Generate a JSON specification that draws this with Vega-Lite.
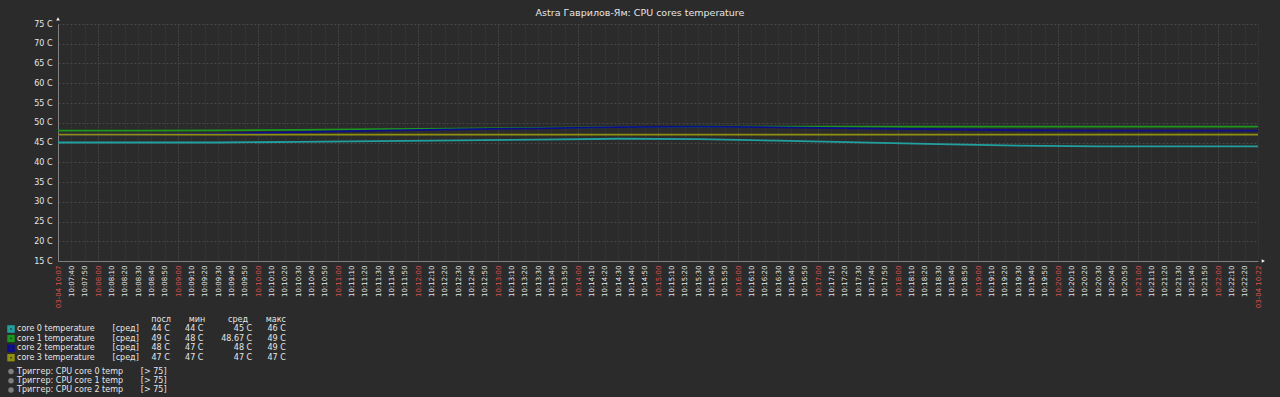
{
  "$schema": "https://vega.github.io/schema/vega-lite/v6.json",
  "width": 1200,
  "height": 237,
  "autosize": {"type": "none"},
  "padding": {"left": 58, "top": 24, "right": 22, "bottom": 136},
  "background": "#2b2b2b",
  "config": {"view": {"stroke": null}, "font": "DejaVu Sans"},
  "title": {"text": "Astra Гаврилов-Ям: CPU cores temperature", "fontSize": 9.5, "fontWeight": "normal", "color": "#e6e6e6", "font": "DejaVu Sans", "offset": 0, "dx": -18},
  "datasets": {
    "series": [
      {"t": "2024-03-04T10:07:30Z", "s": "core 0", "v": 45},
      {"t": "2024-03-04T10:08:30Z", "s": "core 0", "v": 45},
      {"t": "2024-03-04T10:09:30Z", "s": "core 0", "v": 45},
      {"t": "2024-03-04T10:10:30Z", "s": "core 0", "v": 45.15},
      {"t": "2024-03-04T10:11:30Z", "s": "core 0", "v": 45.35},
      {"t": "2024-03-04T10:12:30Z", "s": "core 0", "v": 45.55},
      {"t": "2024-03-04T10:13:30Z", "s": "core 0", "v": 45.75},
      {"t": "2024-03-04T10:14:30Z", "s": "core 0", "v": 45.95},
      {"t": "2024-03-04T10:15:30Z", "s": "core 0", "v": 45.85},
      {"t": "2024-03-04T10:16:30Z", "s": "core 0", "v": 45.45},
      {"t": "2024-03-04T10:17:30Z", "s": "core 0", "v": 45.05},
      {"t": "2024-03-04T10:18:30Z", "s": "core 0", "v": 44.6},
      {"t": "2024-03-04T10:19:30Z", "s": "core 0", "v": 44.2},
      {"t": "2024-03-04T10:20:30Z", "s": "core 0", "v": 44},
      {"t": "2024-03-04T10:21:30Z", "s": "core 0", "v": 44},
      {"t": "2024-03-04T10:22:30Z", "s": "core 0", "v": 44},
      {"t": "2024-03-04T10:07:30Z", "s": "core 1", "v": 48},
      {"t": "2024-03-04T10:08:30Z", "s": "core 1", "v": 48},
      {"t": "2024-03-04T10:09:30Z", "s": "core 1", "v": 48.05},
      {"t": "2024-03-04T10:10:30Z", "s": "core 1", "v": 48.2},
      {"t": "2024-03-04T10:11:30Z", "s": "core 1", "v": 48.35},
      {"t": "2024-03-04T10:12:30Z", "s": "core 1", "v": 48.5},
      {"t": "2024-03-04T10:13:30Z", "s": "core 1", "v": 48.7},
      {"t": "2024-03-04T10:14:30Z", "s": "core 1", "v": 48.9},
      {"t": "2024-03-04T10:15:30Z", "s": "core 1", "v": 49},
      {"t": "2024-03-04T10:16:30Z", "s": "core 1", "v": 49},
      {"t": "2024-03-04T10:17:30Z", "s": "core 1", "v": 49},
      {"t": "2024-03-04T10:18:30Z", "s": "core 1", "v": 49},
      {"t": "2024-03-04T10:19:30Z", "s": "core 1", "v": 49},
      {"t": "2024-03-04T10:20:30Z", "s": "core 1", "v": 49},
      {"t": "2024-03-04T10:21:30Z", "s": "core 1", "v": 49},
      {"t": "2024-03-04T10:22:30Z", "s": "core 1", "v": 49},
      {"t": "2024-03-04T10:07:30Z", "s": "core 2", "v": 47},
      {"t": "2024-03-04T10:08:30Z", "s": "core 2", "v": 47},
      {"t": "2024-03-04T10:09:30Z", "s": "core 2", "v": 47.2},
      {"t": "2024-03-04T10:10:30Z", "s": "core 2", "v": 47.65},
      {"t": "2024-03-04T10:11:30Z", "s": "core 2", "v": 48},
      {"t": "2024-03-04T10:12:30Z", "s": "core 2", "v": 48.3},
      {"t": "2024-03-04T10:13:30Z", "s": "core 2", "v": 48.6},
      {"t": "2024-03-04T10:14:30Z", "s": "core 2", "v": 48.9},
      {"t": "2024-03-04T10:15:30Z", "s": "core 2", "v": 49},
      {"t": "2024-03-04T10:16:30Z", "s": "core 2", "v": 48.85},
      {"t": "2024-03-04T10:17:30Z", "s": "core 2", "v": 48.6},
      {"t": "2024-03-04T10:18:30Z", "s": "core 2", "v": 48.35},
      {"t": "2024-03-04T10:19:30Z", "s": "core 2", "v": 48.1},
      {"t": "2024-03-04T10:20:30Z", "s": "core 2", "v": 48},
      {"t": "2024-03-04T10:21:30Z", "s": "core 2", "v": 48},
      {"t": "2024-03-04T10:22:30Z", "s": "core 2", "v": 48},
      {"t": "2024-03-04T10:07:30Z", "s": "core 3", "v": 47},
      {"t": "2024-03-04T10:08:30Z", "s": "core 3", "v": 47},
      {"t": "2024-03-04T10:09:30Z", "s": "core 3", "v": 47},
      {"t": "2024-03-04T10:10:30Z", "s": "core 3", "v": 47},
      {"t": "2024-03-04T10:11:30Z", "s": "core 3", "v": 47},
      {"t": "2024-03-04T10:12:30Z", "s": "core 3", "v": 47},
      {"t": "2024-03-04T10:13:30Z", "s": "core 3", "v": 47},
      {"t": "2024-03-04T10:14:30Z", "s": "core 3", "v": 47},
      {"t": "2024-03-04T10:15:30Z", "s": "core 3", "v": 47},
      {"t": "2024-03-04T10:16:30Z", "s": "core 3", "v": 47},
      {"t": "2024-03-04T10:17:30Z", "s": "core 3", "v": 47},
      {"t": "2024-03-04T10:18:30Z", "s": "core 3", "v": 47},
      {"t": "2024-03-04T10:19:30Z", "s": "core 3", "v": 47},
      {"t": "2024-03-04T10:20:30Z", "s": "core 3", "v": 47},
      {"t": "2024-03-04T10:21:30Z", "s": "core 3", "v": 47},
      {"t": "2024-03-04T10:22:30Z", "s": "core 3", "v": 47}
    ],
    "triggers": [
      {"trigger": "Триггер: CPU core 0 temp", "thr": 75},
      {"trigger": "Триггер: CPU core 1 temp", "thr": 75},
      {"trigger": "Триггер: CPU core 2 temp", "thr": 75}
    ],
    "arrowUp": [{"t": "2024-03-04T10:07:30Z", "v": 76.3}],
    "arrowRight": [{"t": "2024-03-04T10:22:34Z", "v": 15}]
  },
  "layer": [
    {
      "data": {"name": "series"},
      "mark": {"type": "line", "strokeWidth": 1.8},
      "encoding": {
        "x": {
          "field": "t", "type": "temporal",
          "scale": {"type": "utc", "domain": [1709546850000, 1709547750000]},
          "axis": {
            "title": null,
            "tickCount": 200,
            "values": [1709546850000,1709546860000,1709546870000,1709546880000,1709546890000,1709546900000,1709546910000,1709546920000,1709546930000,1709546940000,1709546950000,1709546960000,1709546970000,1709546980000,1709546990000,1709547000000,1709547010000,1709547020000,1709547030000,1709547040000,1709547050000,1709547060000,1709547070000,1709547080000,1709547090000,1709547100000,1709547110000,1709547120000,1709547130000,1709547140000,1709547150000,1709547160000,1709547170000,1709547180000,1709547190000,1709547200000,1709547210000,1709547220000,1709547230000,1709547240000,1709547250000,1709547260000,1709547270000,1709547280000,1709547290000,1709547300000,1709547310000,1709547320000,1709547330000,1709547340000,1709547350000,1709547360000,1709547370000,1709547380000,1709547390000,1709547400000,1709547410000,1709547420000,1709547430000,1709547440000,1709547450000,1709547460000,1709547470000,1709547480000,1709547490000,1709547500000,1709547510000,1709547520000,1709547530000,1709547540000,1709547550000,1709547560000,1709547570000,1709547580000,1709547590000,1709547600000,1709547610000,1709547620000,1709547630000,1709547640000,1709547650000,1709547660000,1709547670000,1709547680000,1709547690000,1709547700000,1709547710000,1709547720000,1709547730000,1709547740000,1709547750000],
            "labelExpr": "(utcseconds(datum.value) == 30 && (utcminutes(datum.value) == 7 || utcminutes(datum.value) == 22)) ? utcFormat(datum.value, '%m-%d %H:%M') : utcFormat(datum.value, '%H:%M:%S')",
            "labelAngle": 270,
            "labelFont": "DejaVu Sans",
            "labelFontSize": 7,
            "labelColor": {"condition": {"test": "utcseconds(datum.value) == 0 || (utcseconds(datum.value) == 30 && (utcminutes(datum.value) == 7 || utcminutes(datum.value) == 22))", "value": "#d9534f"}, "value": "#e6e6e6"},
            "labelOverlap": false,
            "labelFlush": false,
            "labelPadding": 4,
            "ticks": false,
            "domainColor": "#808080",
            "grid": true,
            "gridColor": {"condition": {"test": "utcseconds(datum.value) == 0", "value": "#585858"}, "value": "#434343"},
            "gridDash": [1, 2]
          }
        },
        "y": {
          "field": "v", "type": "quantitative",
          "scale": {"domain": [15, 75], "nice": false, "zero": false},
          "axis": {
            "title": null,
            "tickCount": 20,
            "values": [15, 20, 25, 30, 35, 40, 45, 50, 55, 60, 65, 70, 75],
            "labelExpr": "datum.value + ' C'",
            "labelFont": "DejaVu Sans",
            "labelFontSize": 8,
            "labelColor": "#e6e6e6",
            "labelOverlap": false,
            "ticks": false,
            "labelPadding": 6,
            "domainColor": "#808080",
            "gridColor": "#474747",
            "gridDash": [2, 2]
          }
        },
        "color": {
          "field": "s", "type": "nominal",
          "scale": {"domain": ["core 0", "core 1", "core 2", "core 3"], "range": ["#22a0a0", "#1c961c", "#0c0c8c", "#8f8f10"]},
          "legend": {
            "orient": "none", "legendX": -51, "legendY": 292, "padding": 0,
            "title": "посл\u00a0\u00a0\u00a0\u00a0\u00a0\u00a0\u00a0мин\u00a0\u00a0\u00a0\u00a0\u00a0\u00a0\u00a0\u00a0\u00a0сред\u00a0\u00a0\u00a0\u00a0\u00a0\u00a0\u00a0макс",
            "titleFont": "DejaVu Sans", "titleFontSize": 8, "titleFontWeight": "normal", "titleColor": "#e6e6e6",
            "titlePadding": 1, "titleLimit": 800, "titleAnchor": "end",
            "symbolType": "square", "symbolSize": 20, "symbolStrokeWidth": 3,
            "clipHeight": 8,
            "labelFont": "DejaVu Sans", "labelFontSize": 8, "labelColor": "#e6e6e6", "labelLimit": 800, "labelOffset": 2,
            "rowPadding": 1.6,
            "labelExpr": "datum.label == 'core 0' ? 'core 0 temperature\u00a0\u00a0\u00a0\u00a0\u00a0\u00a0\u00a0[сред]\u00a0\u00a0\u00a0\u00a0\u00a044 C\u00a0\u00a0\u00a0\u00a0\u00a0\u00a044 C\u00a0\u00a0\u00a0\u00a0\u00a0\u00a0\u00a0\u00a0\u00a0\u00a0\u00a0\u00a045 C\u00a0\u00a0\u00a0\u00a0\u00a0\u00a046 C' : datum.label == 'core 1' ? 'core 1 temperature\u00a0\u00a0\u00a0\u00a0\u00a0\u00a0\u00a0[сред]\u00a0\u00a0\u00a0\u00a0\u00a049 C\u00a0\u00a0\u00a0\u00a0\u00a0\u00a048 C\u00a0\u00a0\u00a0\u00a0\u00a0\u00a0\u00a048.67 C\u00a0\u00a0\u00a0\u00a0\u00a0\u00a049 C' : datum.label == 'core 2' ? 'core 2 temperature\u00a0\u00a0\u00a0\u00a0\u00a0\u00a0\u00a0[сред]\u00a0\u00a0\u00a0\u00a0\u00a048 C\u00a0\u00a0\u00a0\u00a0\u00a0\u00a047 C\u00a0\u00a0\u00a0\u00a0\u00a0\u00a0\u00a0\u00a0\u00a0\u00a0\u00a0\u00a048 C\u00a0\u00a0\u00a0\u00a0\u00a0\u00a049 C' : 'core 3 temperature\u00a0\u00a0\u00a0\u00a0\u00a0\u00a0\u00a0[сред]\u00a0\u00a0\u00a0\u00a0\u00a047 C\u00a0\u00a0\u00a0\u00a0\u00a0\u00a047 C\u00a0\u00a0\u00a0\u00a0\u00a0\u00a0\u00a0\u00a0\u00a0\u00a0\u00a0\u00a047 C\u00a0\u00a0\u00a0\u00a0\u00a0\u00a047 C'"
          }
        }
      }
    },
    {
      "data": {"name": "triggers"},
      "mark": {"type": "point", "filled": true, "color": "#808080", "opacity": 0},
      "encoding": {
        "y": {"field": "thr", "type": "quantitative"},
        "shape": {
          "field": "trigger", "type": "nominal",
          "scale": {"range": ["circle", "circle", "circle"]},
          "legend": {
            "orient": "none", "legendX": -51, "legendY": 343.5, "padding": 0, "title": null,
            "symbolSize": 30, "symbolFillColor": "#808080", "symbolOpacity": 1,
            "clipHeight": 8,
            "labelFont": "DejaVu Sans", "labelFontSize": 8, "labelColor": "#e6e6e6", "labelLimit": 800, "labelOffset": 2,
            "rowPadding": 1.3,
            "labelExpr": "datum.label + '\u00a0\u00a0\u00a0\u00a0\u00a0\u00a0\u00a0[> 75]'"
          }
        }
      }
    },
    {
      "data": {"name": "arrowUp"},
      "mark": {"type": "point", "shape": "triangle-up", "filled": true, "color": "#f0f0f0", "size": 14, "opacity": 1},
      "encoding": {"x": {"field": "t", "type": "temporal"}, "y": {"field": "v", "type": "quantitative"}}
    },
    {
      "data": {"name": "arrowRight"},
      "mark": {"type": "point", "shape": "triangle-right", "filled": true, "color": "#f0f0f0", "size": 14, "opacity": 1},
      "encoding": {"x": {"field": "t", "type": "temporal"}, "y": {"field": "v", "type": "quantitative"}}
    }
  ]
}
